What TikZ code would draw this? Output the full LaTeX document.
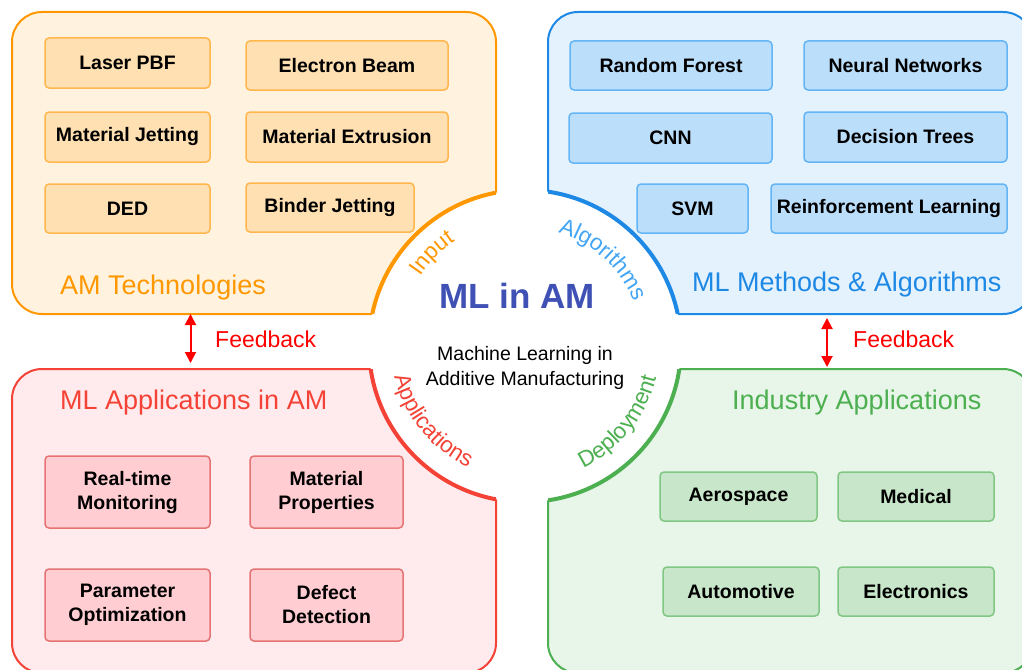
\documentclass[tikz,border=0pt]{standalone}
\usepackage{fontspec}
\setmainfont{Liberation Sans}
\usetikzlibrary{arrows.meta,decorations.text,calc}
\definecolor{Oa}{HTML}{FF9800}\definecolor{Ob}{HTML}{FFF3E0}\definecolor{Oc}{HTML}{FFE0B2}\definecolor{Od}{HTML}{FFB74D}
\definecolor{Ba}{HTML}{1E88E5}\definecolor{Bb}{HTML}{E3F2FD}\definecolor{Bc}{HTML}{BBDEFB}\definecolor{Bd}{HTML}{64B5F6}\definecolor{Be}{HTML}{42A5F5}
\definecolor{Ra}{HTML}{F44336}\definecolor{Rb}{HTML}{FFEBEE}\definecolor{Rc}{HTML}{FFCDD2}\definecolor{Rd}{HTML}{E57373}
\definecolor{Ga}{HTML}{4CAF50}\definecolor{Gb}{HTML}{E8F5E9}\definecolor{Gc}{HTML}{C8E6C9}\definecolor{Gd}{HTML}{81C784}
\definecolor{Ia}{HTML}{3F51B5}
\definecolor{FB}{HTML}{FF0000}
\begin{document}
\begin{tikzpicture}[x=1pt,y=-1pt,
  panel/.style={line width=2pt, rounded corners=30pt},
  boxbase/.style={line width=1.5pt, rounded corners=4pt, inner sep=0pt, align=center,
     font=\bfseries\fontsize{19.5pt}{24pt}\selectfont, text=black},
  boxO/.style={boxbase, draw=Od, fill=Oc},
  boxB/.style={boxbase, draw=Bd, fill=Bc},
  boxR/.style={boxbase, draw=Rd, fill=Rc},
  boxG/.style={boxbase, draw=Gd, fill=Gc},
  ptitle/.style={anchor=base west, inner sep=0pt, font=\fontsize{27pt}{30pt}\selectfont},
  fbtext/.style={anchor=base west, inner sep=0pt, text=FB, font=\fontsize{23pt}{26pt}\selectfont},
  fbarrow/.style={draw=FB, line width=2pt, {Triangle[length=11pt,width=11pt]}-{Triangle[length=11pt,width=11pt]}},
]
\useasboundingbox (0,0) rectangle (1022,669);
\clip (0,0) rectangle (1022,669);
\fill[white] (0,0) rectangle (1022,669);
\coordinate (C) at (525,346);
% panels
\path[panel, draw=Oa, fill=Ob] (12,12) rectangle (496,314);
\path[panel, draw=Ba, fill=Bb] (548,12) rectangle (1033,314);
\path[panel, draw=Ra, fill=Rb] (12,369) rectangle (496,673);
\path[panel, draw=Ga, fill=Gb] (548,369) rectangle (1033,673);
\fill[white] (C) circle[radius=156pt];
\begin{scope}\clip[rounded corners=30pt] (12,12) rectangle (496,314);
  \draw[Oa, line width=4pt] (C) circle[radius=156pt];\end{scope}
\begin{scope}\clip[rounded corners=30pt] (548,12) rectangle (1033,314);
  \draw[Ba, line width=4pt] (C) circle[radius=156pt];\end{scope}
\begin{scope}\clip[rounded corners=30pt] (12,369) rectangle (496,673);
  \draw[Ra, line width=4pt] (C) circle[radius=156pt];\end{scope}
\begin{scope}\clip[rounded corners=30pt] (548,369) rectangle (1033,673);
  \draw[Ga, line width=4pt] (C) circle[radius=156pt];\end{scope}
% AM technologies
\node[boxO, minimum width=165pt, minimum height=50pt] (laser) at (127.5,63) {Laser PBF};
\node[boxO, minimum width=202pt, minimum height=49pt] (ebeam) at (347,65.5) {Electron Beam};
\node[boxO, minimum width=165pt, minimum height=50pt] (mjet) at (127.5,137) {Material Jetting};
\node[boxO, minimum width=202pt, minimum height=50pt] (mext) at (347,137) {Material Extrusion};
\node[boxO, minimum width=165pt, minimum height=49pt] (ded) at (127.5,208.5) {DED};
\node[boxO, minimum width=168pt, minimum height=49pt] (binder) at (330,207.5) {Binder Jetting};
\node[ptitle, text=Oa] (tAM) at (60,294) {AM Technologies};
% ML methods
\node[boxB, minimum width=202pt, minimum height=49pt] (rf) at (671,65.5) {Random Forest};
\node[boxB, minimum width=203pt, minimum height=49pt] (nn) at (905.5,65.5) {Neural Networks};
\node[boxB, minimum width=203pt, minimum height=50pt] (cnn) at (670.5,138) {CNN};
\node[boxB, minimum width=203pt, minimum height=50pt] (dt) at (905.5,137) {Decision Trees};
\node[boxB, minimum width=111pt, minimum height=49pt] (svm) at (692.5,208.5) {SVM};
\node[boxB, minimum width=236pt, minimum height=49pt] (rl) at (889,208.5) {Reinforcement Learning};
\node[ptitle, text=Ba] (tML) at (692,291) {ML Methods \& Algorithms};
% ML applications
\node[ptitle, text=Ra] (tApp) at (60,409) {ML Applications in AM};
\node[boxR, minimum width=165pt, minimum height=72pt] (rtm) at (127.5,492) {Real-time\\Monitoring};
\node[boxR, minimum width=153pt, minimum height=72pt] (mp) at (326.5,492) {Material\\Properties};
\node[boxR, minimum width=165pt, minimum height=72pt] (po) at (127.5,605) {Parameter\\Optimization};
\node[boxR, minimum width=153pt, minimum height=72pt] (dd) at (326.5,605) {Defect\\Detection};
% Industry
\node[ptitle, text=Ga] (tInd) at (732,409) {Industry Applications};
\node[boxG, minimum width=157pt, minimum height=49pt] (aero) at (738.5,496.5) {Aerospace};
\node[boxG, minimum width=156pt, minimum height=49pt] (med) at (916,496.5) {Medical};
\node[boxG, minimum width=156pt, minimum height=49pt] (auto) at (741,591.5) {Automotive};
\node[boxG, minimum width=156pt, minimum height=49pt] (elec) at (916,591.5) {Electronics};
% feedback
\coordinate (fl1) at (190.5,314);
\coordinate (fl2) at (190.5,363);
\coordinate (fr1) at (827,318);
\coordinate (fr2) at (827,367);
\draw[fbarrow] (fl1) -- (fl2);
\draw[fbarrow] (fr1) -- (fr2);
\node[fbtext] (fbl) at (215,347) {Feedback};
\node[fbtext] (fbr) at (853,347) {Feedback};
% center
\node[inner sep=0pt, text=Ia, font=\bfseries\fontsize{35pt}{38pt}\selectfont] (title) at (517,296) {ML in AM};
\node[anchor=base, inner sep=0pt, font=\fontsize{19.5pt}{22pt}\selectfont] (sub1) at (525,360) {Machine Learning in};
\node[anchor=base, inner sep=0pt, font=\fontsize{19.5pt}{22pt}\selectfont] (sub2) at (525,385) {Additive Manufacturing};
% curved labels
\path[decorate, decoration={text along path, text align=center,
  text={|\color{Oa}\fontsize{22.5pt}{22.5pt}\selectfont|Input}}]
  ($(C)+(175:126pt)$) arc[start angle=175, end angle=95, radius=126pt];
\path[decorate, decoration={text along path, text align=center,
  text={|\color{Be}\fontsize{22.5pt}{22.5pt}\selectfont|Algorithms}}]
  ($(C)+(93:118pt)$) arc[start angle=93, end angle=3, radius=118pt];
\path[decorate, decoration={text along path, text align=center,
  text={|\color{Ra}\fontsize{22.5pt}{22.5pt}\selectfont|Applications}}]
  ($(C)+(174:134pt)$) arc[start angle=174, end angle=264, radius=134pt];
\path[decorate, decoration={text along path, text align=center,
  text={|\color{Ga}\fontsize{22.5pt}{22.5pt}\selectfont|Deployment}}]
  ($(C)+(276:135pt)$) arc[start angle=276, end angle=366, radius=135pt];
\end{tikzpicture}
\end{document}
